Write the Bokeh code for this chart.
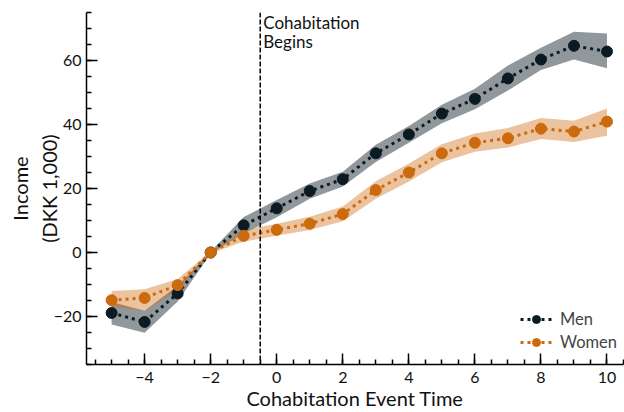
from bokeh.plotting import figure
from bokeh.models import Span, Label, Range1d, FixedTicker, Legend, LegendItem
from bokeh.embed import file_html
from bokeh.resources import INLINE

event_time = [-5, -4, -3, -2, -1, 0, 1, 2, 3, 4, 5, 6, 7, 8, 9, 10]

men_mean = [-18.9, -21.7, -12.8, 0.0, 8.5, 13.8, 19.2, 22.9, 31.0, 36.9, 43.4, 48.0, 54.4, 60.3, 64.6, 62.8]
men_lo = [-22.5, -25.1, -15.3, -0.3, 5.9, 11.0, 16.8, 20.6, 28.3, 34.3, 40.4, 44.8, 50.6, 57.0, 60.3, 57.6]
men_hi = [-15.5, -18.2, -10.4, 0.3, 11.1, 16.4, 21.6, 25.2, 33.7, 39.5, 46.2, 51.2, 58.4, 64.0, 69.0, 68.4]

women_mean = [-14.9, -14.2, -10.2, 0.0, 5.2, 7.1, 9.0, 12.0, 19.5, 25.0, 31.0, 34.3, 35.7, 38.7, 37.8, 40.9]
women_lo = [-17.0, -18.2, -12.0, -0.3, 3.4, 5.2, 7.0, 9.8, 16.8, 22.2, 28.2, 31.5, 32.8, 35.5, 34.5, 36.5]
women_hi = [-12.0, -11.5, -8.3, 0.3, 7.0, 9.0, 11.2, 14.4, 22.3, 27.8, 33.8, 37.2, 38.9, 42.0, 41.2, 45.0]

y_ticks = [-20, 0, 20, 40, 60]
x_ticks = [-4, -2, 0, 2, 4, 6, 8, 10]

MEN = "#0c1a23"
WOMEN = "#cc6a0e"
FONT = "Lato"

p = figure(width=624, height=412, output_backend="svg", toolbar_location=None,
           x_range=Range1d(-5.76, 10.5), y_range=Range1d(-35, 75),
           min_border_left=86, min_border_top=12, min_border_right=1, min_border_bottom=45)
p.outline_line_color = None
p.xgrid.visible = False
p.ygrid.visible = False
p.background_fill_color = "white"

p.varea(x=event_time, y1=men_lo, y2=men_hi, fill_color=MEN, fill_alpha=0.45)
p.varea(x=event_time, y1=women_lo, y2=women_hi, fill_color=WOMEN, fill_alpha=0.4)

p.add_layout(Span(location=-0.5, dimension="height", line_color="black",
                  line_width=1.5, line_dash="5 2"))

ml = p.line(event_time, men_mean, line_color=MEN, line_width=3, line_dash="3 4")
ms = p.scatter(event_time, men_mean, size=11, fill_color=MEN, line_color=MEN)
wl = p.line(event_time, women_mean, line_color=WOMEN, line_width=3, line_dash="3 4")
ws = p.scatter(event_time, women_mean, size=11, fill_color=WOMEN, line_color=WOMEN)

legend = Legend(items=[LegendItem(label="Men", renderers=[ml, ms]),
                       LegendItem(label="Women", renderers=[wl, ws])],
                location=(434, 12), border_line_color=None,
                background_fill_alpha=0, label_text_font=FONT,
                label_text_font_size="16.5px", glyph_width=32, glyph_height=20,
                label_height=20, spacing=3, padding=2, margin=0, label_standoff=8)
p.add_layout(legend)

p.add_layout(Label(x=-0.5, y=75, text="Cohabitation", x_offset=3, y_offset=1,
                   text_baseline="top", text_font=FONT, text_font_size="17px",
                   text_color="#111111"))
p.add_layout(Label(x=-0.5, y=75, text="Begins", x_offset=3, y_offset=-18,
                   text_baseline="top", text_font=FONT, text_font_size="17px",
                   text_color="#111111"))

for ax in (p.xaxis[0], p.yaxis[0]):
    ax.axis_line_width = 1.5
    ax.major_tick_line_width = 1.5
    ax.minor_tick_line_width = 1.5
    ax.major_tick_in = 11
    ax.major_tick_out = 0
    ax.minor_tick_in = 5
    ax.minor_tick_out = 0
    ax.major_label_text_font = FONT
    ax.major_label_text_font_size = "16px"
    ax.major_label_text_color = "#111111"
    ax.axis_label_text_font = FONT
    ax.axis_label_text_font_size = "20px"
    ax.axis_label_text_font_style = "normal"
    ax.axis_label_text_color = "#111111"

p.xaxis.ticker = FixedTicker(ticks=x_ticks,
                             minor_ticks=[v / 2 for v in range(-11, 22)])
p.yaxis.ticker = FixedTicker(ticks=y_ticks, minor_ticks=list(range(-35, 76, 5)))
p.xaxis.axis_label = "Cohabitation Event Time"
p.yaxis.axis_label = "Income\n(DKK 1,000)"
p.xaxis.major_label_standoff = 7
p.xaxis.axis_label_standoff = 0
p.yaxis.major_label_standoff = 5
p.yaxis.axis_label_standoff = -10

open("out.html", "w").write(file_html(p, INLINE))
